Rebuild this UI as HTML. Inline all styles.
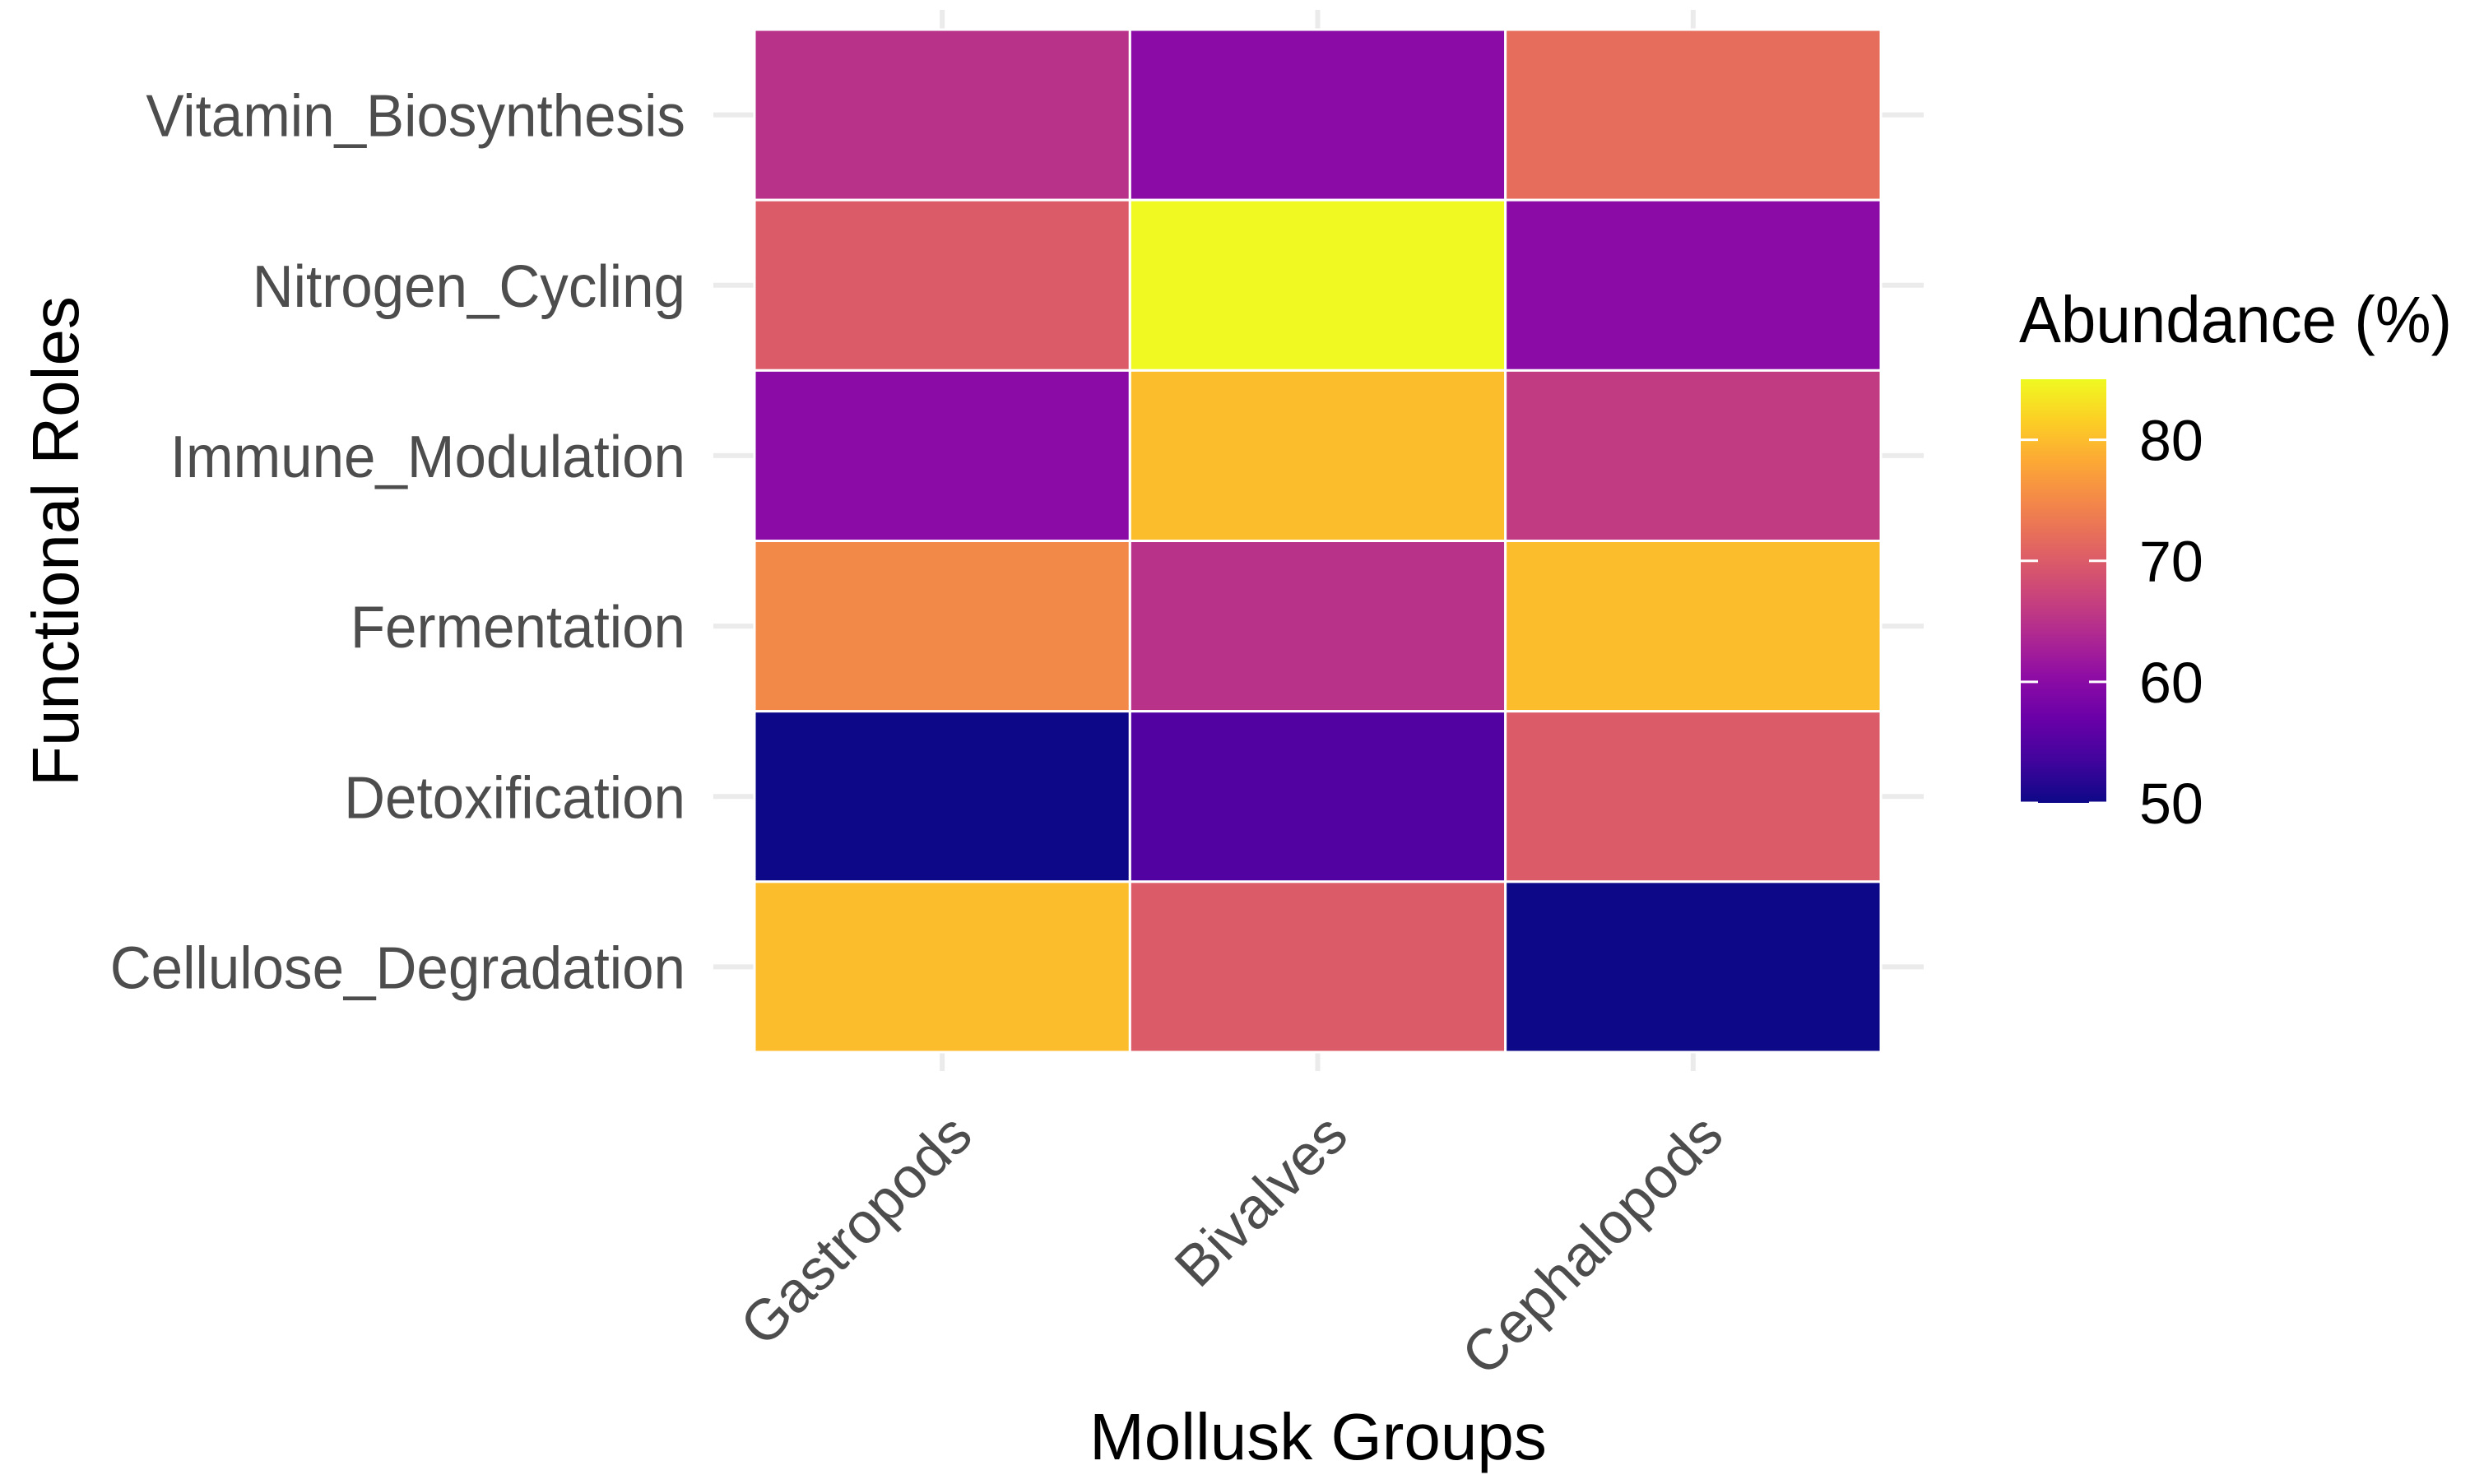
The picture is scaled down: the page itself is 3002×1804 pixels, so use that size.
<!DOCTYPE html>
<html><head><meta charset="utf-8"><style>html,body{margin:0;padding:0;background:#fff}svg{display:block}</style></head>
<body>
<svg id="chart" width="3002" height="1804" viewBox="0 0 3002 1804" xmlns="http://www.w3.org/2000/svg" font-family="Liberation Sans, Arial, sans-serif">
<defs>
<linearGradient id="plasma" x1="0" y1="1" x2="0" y2="0">
<stop offset="0" stop-color="#0d0887"/><stop offset="0.1" stop-color="#41049d"/><stop offset="0.2" stop-color="#6a00a8"/><stop offset="0.3" stop-color="#8f0da4"/><stop offset="0.4" stop-color="#b12a90"/><stop offset="0.5" stop-color="#cc4778"/><stop offset="0.6" stop-color="#e16462"/><stop offset="0.7" stop-color="#f2844b"/><stop offset="0.8" stop-color="#fca636"/><stop offset="0.9" stop-color="#fcce25"/><stop offset="1" stop-color="#f0f921"/>
</linearGradient>
</defs>
<g id="grid"></g>
<g id="tiles"></g>
<g id="ylabels"></g>
<g id="xlabels"></g>
<text x="0" y="0" transform="translate(95,658) rotate(-90)" text-anchor="middle" font-size="80" fill="#000">Functional Roles</text>
<text x="1602" y="1774" text-anchor="middle" font-size="80" fill="#000">Mollusk Groups</text>
<g>
<text x="2454" y="416" font-size="80" textLength="526" lengthAdjust="spacingAndGlyphs" fill="#000">Abundance (%)</text>
<rect x="2456" y="461" width="104" height="515" fill="url(#plasma)"/>
<g id="legticks"></g>
</g>
</svg>
<script>
const categories = ["Gastropods","Bivalves","Cephalopods"];
const roles = ["Vitamin_Biosynthesis","Nitrogen_Cycling","Immune_Modulation","Fermentation","Detoxification","Cellulose_Degradation"];
const gastropods = [65, 70, 60, 75, 50, 80];
const bivalves = [60, 85, 80, 65, 55, 70];
const cephalopods = [72, 60, 66, 80, 70, 50];
const legendTicks = [50, 60, 70, 80];
const vmin = 50, vmax = 85;

const NS = "http://www.w3.org/2000/svg";
const px0 = 917, px1 = 2286, py0 = 36, py1 = 1279;
const colW = (px1 - px0) / categories.length;
const rowH = (py1 - py0) / roles.length;
function xPos(i){ return px0 + i * colW; }
function yPos(j){ return py0 + j * rowH; }
const stops = ["#0d0887","#41049d","#6a00a8","#8f0da4","#b12a90","#cc4778","#e16462","#f2844b","#fca636","#fcce25","#f0f921"];
function hex(c){ return [1,3,5].map(k=>parseInt(c.substr(k,2),16)); }
function plasma(v){
  let t = Math.max(0, Math.min(1, (v - vmin) / (vmax - vmin))) * 10;
  let i = Math.min(9, Math.floor(t)), f = t - i;
  let a = hex(stops[i]), b = hex(stops[i+1]);
  return "rgb(" + a.map((x,k)=>Math.round(x + (b[k]-x)*f)).join(",") + ")";
}
function mk(tag, attrs, parent){
  const e = document.createElementNS(NS, tag);
  for (const k in attrs) e.setAttribute(k, attrs[k]);
  parent.appendChild(e); return e;
}
const grid = document.getElementById("grid");
categories.forEach((c,i)=>{
  const cx = xPos(i) + colW/2;
  const l = mk("line",{x1:cx,x2:cx,y1:12,y2:1302,stroke:"#ebebeb","stroke-width":6},grid);
  
  
});
roles.forEach((r,j)=>{
  const cy = yPos(j) + rowH/2;
  const l = mk("line",{x1:867,x2:2338,y1:cy,y2:cy,stroke:"#ebebeb","stroke-width":6},grid);
  
  
});
const series = [gastropods, bivalves, cephalopods];
const tiles = document.getElementById("tiles");
series.forEach((vals,i)=>{
  vals.forEach((v,j)=>{
    const r = mk("rect",{x:xPos(i),y:yPos(j),width:colW,height:rowH,fill:plasma(v),stroke:"#fff","stroke-width":3},tiles);
    
    
  });
});
const yl = document.getElementById("ylabels");
roles.forEach((r,j)=>{
  const t = mk("text",{x:0,y:0,"text-anchor":"end","font-size":72,fill:"#4d4d4d",transform:"translate(833,"+(yPos(j)+rowH/2+26)+") scale(0.96,1)"},yl);
  t.textContent = r;
  
  
});
const xl = document.getElementById("xlabels");
categories.forEach((c,i)=>{
  const cx = xPos(i) + colW/2 + 40;
  const t = mk("text",{x:0,y:0,"text-anchor":"end","font-size":70,fill:"#4d4d4d",transform:"translate("+cx+",1384) rotate(-45)"},xl);
  t.textContent = c;
  
  
});
const lt = document.getElementById("legticks");
const lb0 = 976, lbH = 515;
legendTicks.forEach(v=>{
  const y = lb0 - (v - vmin)/(vmax - vmin)*lbH;
  const a = mk("line",{x1:2456,x2:2477,y1:y,y2:y,stroke:"#fff","stroke-width":3},lt);
  
  
  const b = mk("line",{x1:2539,x2:2560,y1:y,y2:y,stroke:"#fff","stroke-width":3},lt);
  
  
  const t = mk("text",{x:2600,y:y+25,"font-size":70,fill:"#000"},lt);
  t.textContent = v;
  
  
});
</script>
</body></html>
